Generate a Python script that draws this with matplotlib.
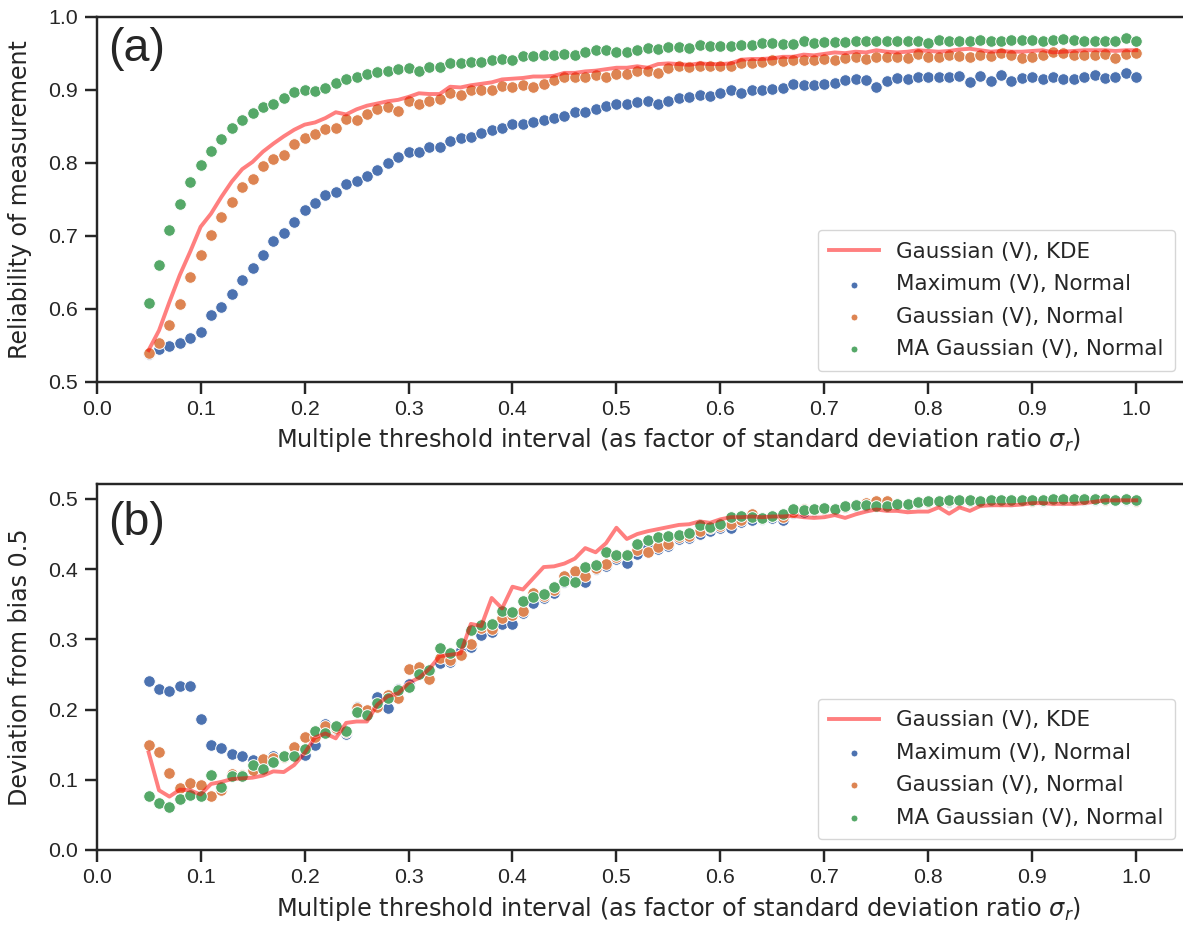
import matplotlib
matplotlib.use('Agg')
import matplotlib.pyplot as plt
import numpy as np

# threshold interval (factor of sigma_r)
thresholds = np.round(np.arange(0.05, 1.001, 0.01), 2)

# (a) reliability of measurement
rel_kde = [0.543, 0.570, 0.609, 0.646, 0.678, 0.712, 0.730, 0.753, 0.774, 0.791,
           0.801, 0.815, 0.826, 0.836, 0.845, 0.852, 0.855, 0.861, 0.869, 0.866,
           0.873, 0.878, 0.881, 0.884, 0.886, 0.890, 0.895, 0.894, 0.894, 0.904,
           0.903, 0.906, 0.908, 0.910, 0.914, 0.915, 0.916, 0.918, 0.918, 0.919,
           0.923, 0.923, 0.925, 0.926, 0.928, 0.930, 0.930, 0.932, 0.930, 0.935,
           0.936, 0.935, 0.934, 0.936, 0.935, 0.935, 0.936, 0.941, 0.942, 0.942,
           0.943, 0.945, 0.945, 0.948, 0.947, 0.949, 0.951, 0.950, 0.952, 0.951,
           0.954, 0.952, 0.951, 0.952, 0.954, 0.953, 0.952, 0.953, 0.955, 0.956,
           0.954, 0.952, 0.953, 0.952, 0.952, 0.953, 0.954, 0.951, 0.952, 0.953,
           0.954, 0.954, 0.954, 0.953, 0.954, 0.954]
rel_max = [0.538, 0.545, 0.548, 0.553, 0.559, 0.568, 0.591, 0.602, 0.620, 0.639,
           0.655, 0.674, 0.693, 0.704, 0.718, 0.735, 0.745, 0.755, 0.760, 0.771,
           0.775, 0.781, 0.790, 0.799, 0.807, 0.814, 0.815, 0.821, 0.822, 0.829,
           0.834, 0.835, 0.840, 0.844, 0.847, 0.853, 0.853, 0.855, 0.858, 0.861,
           0.864, 0.869, 0.870, 0.874, 0.878, 0.880, 0.881, 0.883, 0.884, 0.881,
           0.884, 0.888, 0.890, 0.893, 0.891, 0.896, 0.899, 0.896, 0.899, 0.899,
           0.901, 0.902, 0.908, 0.907, 0.907, 0.908, 0.909, 0.913, 0.914, 0.913,
           0.903, 0.912, 0.916, 0.915, 0.918, 0.918, 0.918, 0.917, 0.919, 0.911,
           0.919, 0.912, 0.920, 0.912, 0.916, 0.918, 0.915, 0.918, 0.914, 0.915,
           0.917, 0.920, 0.916, 0.917, 0.923, 0.917]
rel_gauss = [0.539, 0.553, 0.578, 0.606, 0.643, 0.673, 0.701, 0.726, 0.746, 0.767,
             0.777, 0.796, 0.805, 0.810, 0.826, 0.834, 0.839, 0.846, 0.848, 0.860,
             0.859, 0.866, 0.873, 0.876, 0.871, 0.884, 0.880, 0.884, 0.887, 0.896,
             0.893, 0.900, 0.900, 0.900, 0.905, 0.904, 0.907, 0.904, 0.908, 0.913,
             0.917, 0.918, 0.918, 0.920, 0.918, 0.921, 0.922, 0.925, 0.925, 0.923,
             0.930, 0.932, 0.931, 0.933, 0.932, 0.933, 0.932, 0.937, 0.936, 0.938,
             0.940, 0.939, 0.941, 0.940, 0.941, 0.942, 0.940, 0.944, 0.945, 0.942,
             0.945, 0.945, 0.945, 0.943, 0.949, 0.945, 0.945, 0.948, 0.946, 0.945,
             0.947, 0.946, 0.950, 0.948, 0.944, 0.945, 0.948, 0.951, 0.950, 0.947,
             0.948, 0.948, 0.949, 0.944, 0.949, 0.950]
rel_ma = [0.608, 0.659, 0.707, 0.743, 0.774, 0.797, 0.816, 0.833, 0.847, 0.858,
          0.868, 0.876, 0.880, 0.888, 0.897, 0.900, 0.898, 0.902, 0.909, 0.914,
          0.918, 0.921, 0.924, 0.926, 0.928, 0.929, 0.925, 0.931, 0.931, 0.936,
          0.936, 0.938, 0.938, 0.941, 0.942, 0.941, 0.946, 0.946, 0.947, 0.947,
          0.949, 0.948, 0.951, 0.954, 0.954, 0.951, 0.952, 0.955, 0.957, 0.956,
          0.959, 0.958, 0.957, 0.961, 0.960, 0.960, 0.960, 0.961, 0.961, 0.964,
          0.964, 0.962, 0.962, 0.966, 0.964, 0.965, 0.965, 0.965, 0.967, 0.966,
          0.967, 0.966, 0.966, 0.967, 0.967, 0.964, 0.968, 0.967, 0.967, 0.967,
          0.968, 0.967, 0.967, 0.968, 0.968, 0.968, 0.967, 0.968, 0.969, 0.968,
          0.967, 0.967, 0.967, 0.967, 0.971, 0.967]

# (b) deviation from bias 0.5
dev_kde = [0.139, 0.085, 0.076, 0.086, 0.085, 0.079, 0.094, 0.097, 0.101, 0.102,
           0.103, 0.106, 0.112, 0.111, 0.121, 0.138, 0.160, 0.166, 0.159, 0.181,
           0.183, 0.183, 0.207, 0.219, 0.223, 0.238, 0.245, 0.258, 0.276, 0.278,
           0.280, 0.322, 0.319, 0.359, 0.344, 0.375, 0.371, 0.387, 0.403, 0.404,
           0.408, 0.415, 0.430, 0.424, 0.437, 0.459, 0.443, 0.450, 0.454, 0.457,
           0.460, 0.463, 0.464, 0.468, 0.466, 0.471, 0.474, 0.474, 0.475, 0.474,
           0.475, 0.475, 0.476, 0.474, 0.473, 0.474, 0.477, 0.473, 0.478, 0.482,
           0.485, 0.483, 0.483, 0.481, 0.482, 0.482, 0.488, 0.479, 0.488, 0.483,
           0.490, 0.491, 0.491, 0.491, 0.492, 0.494, 0.494, 0.493, 0.493, 0.493,
           0.494, 0.496, 0.498, 0.498, 0.498, 0.498]
dev_max = [0.241, 0.230, 0.227, 0.234, 0.233, 0.187, 0.150, 0.145, 0.136, 0.134,
           0.128, 0.123, 0.134, 0.133, 0.135, 0.135, 0.149, 0.180, 0.172, 0.165,
           0.204, 0.195, 0.218, 0.202, 0.230, 0.237, 0.250, 0.255, 0.267, 0.268,
           0.285, 0.289, 0.306, 0.311, 0.322, 0.322, 0.338, 0.352, 0.359, 0.366,
           0.381, 0.390, 0.382, 0.400, 0.405, 0.415, 0.409, 0.421, 0.432, 0.428,
           0.433, 0.443, 0.444, 0.450, 0.455, 0.459, 0.459, 0.467, 0.470, 0.472,
           0.473, 0.470, 0.480, 0.481, 0.483, 0.485, 0.484, 0.488, 0.490, 0.490,
           0.495, 0.494, 0.492, 0.491, 0.494, 0.495, 0.495, 0.496, 0.496, 0.497,
           0.495, 0.497, 0.497, 0.497, 0.498, 0.497, 0.497, 0.499, 0.499, 0.499,
           0.499, 0.499, 0.499, 0.498, 0.499, 0.497]
dev_gauss = [0.150, 0.139, 0.109, 0.088, 0.096, 0.093, 0.077, 0.086, 0.108, 0.107,
             0.114, 0.130, 0.131, 0.133, 0.146, 0.161, 0.161, 0.176, 0.174, 0.168,
             0.202, 0.200, 0.203, 0.221, 0.216, 0.258, 0.261, 0.243, 0.273, 0.270,
             0.278, 0.293, 0.316, 0.315, 0.330, 0.335, 0.340, 0.366, 0.362, 0.370,
             0.390, 0.397, 0.390, 0.402, 0.408, 0.418, 0.420, 0.427, 0.425, 0.431,
             0.436, 0.446, 0.447, 0.455, 0.458, 0.462, 0.464, 0.470, 0.478, 0.473,
             0.476, 0.474, 0.482, 0.486, 0.484, 0.486, 0.486, 0.489, 0.491, 0.494,
             0.497, 0.497, 0.493, 0.492, 0.495, 0.496, 0.497, 0.497, 0.497, 0.497,
             0.496, 0.498, 0.497, 0.498, 0.498, 0.497, 0.498, 0.499, 0.500, 0.499,
             0.500, 0.500, 0.499, 0.499, 0.500, 0.497]
dev_ma = [0.077, 0.067, 0.061, 0.073, 0.079, 0.077, 0.107, 0.089, 0.106, 0.105,
          0.121, 0.115, 0.126, 0.134, 0.134, 0.144, 0.170, 0.166, 0.176, 0.170,
          0.197, 0.192, 0.209, 0.216, 0.228, 0.232, 0.251, 0.257, 0.287, 0.281,
          0.295, 0.313, 0.321, 0.322, 0.341, 0.339, 0.354, 0.361, 0.365, 0.375,
          0.383, 0.382, 0.403, 0.406, 0.425, 0.420, 0.420, 0.436, 0.441, 0.446,
          0.447, 0.448, 0.452, 0.463, 0.460, 0.465, 0.474, 0.475, 0.474, 0.473,
          0.475, 0.478, 0.486, 0.484, 0.486, 0.487, 0.486, 0.490, 0.492, 0.491,
          0.490, 0.490, 0.493, 0.493, 0.496, 0.497, 0.497, 0.498, 0.498, 0.498,
          0.497, 0.498, 0.498, 0.498, 0.499, 0.498, 0.498, 0.500, 0.500, 0.500,
          0.500, 0.500, 0.500, 0.499, 0.500, 0.498]

labels = ['Gaussian (V), KDE', 'Maximum (V), Normal',
          'Gaussian (V), Normal', 'MA Gaussian (V), Normal']
colors = ['#4C72B0', '#DD8452', '#55A868']
xlabel = 'Multiple threshold interval (as factor of standard deviation ratio $\\sigma_r$)'

plt.rcParams['font.family'] = ['Liberation Sans', 'DejaVu Sans']
plt.rcParams['text.color'] = '.15'
plt.rcParams['axes.labelcolor'] = '.15'
plt.rcParams['axes.edgecolor'] = '.15'
plt.rcParams['axes.linewidth'] = 1.75
plt.rcParams['xtick.color'] = '.15'
plt.rcParams['ytick.color'] = '.15'

fig = plt.figure(figsize=(11.83, 9.26), dpi=100)
ax1 = fig.add_axes([0.0817, 0.588, 0.9205, 0.394])
ax2 = fig.add_axes([0.0817, 0.0821, 0.9205, 0.395])

panels = [(ax1, rel_kde, [rel_max, rel_gauss, rel_ma], 'Reliability of measurement', '(a)', (0.5, 1.0), 0.879),
          (ax2, dev_kde, [dev_max, dev_gauss, dev_ma], 'Deviation from bias 0.5', '(b)', (0.0, 0.521), 0.861)]

for ax, kde, normals, ylab, tag, ylim, ty in panels:
    ax.plot(thresholds, kde, color='red', alpha=0.5, lw=2.8, label=labels[0])
    for vals, c, lab in zip(normals, colors, labels[1:]):
        ax.scatter(thresholds, vals, s=70, color=c, edgecolor='white', linewidth=0.7, label=lab)
    ax.set_xlim(0, 1.0475)
    ax.set_ylim(*ylim)
    ax.set_xticks(np.arange(0, 1.01, 0.1))
    ax.set_yticks(np.arange(ylim[0], 0.5 + ylim[0] + 0.01, 0.1))
    ax.tick_params(labelsize=15.4, length=8.4, width=1.75, pad=4.9)
    ax.set_xlabel(xlabel, fontsize=17.3, family='DejaVu Sans')
    ax.xaxis.set_label_coords(0.534, -0.123)
    ax.set_ylabel(ylab, fontsize=17.1, family='DejaVu Sans')
    ax.yaxis.set_label_coords(-0.059, 0.5)
    ax.text(0.0104, ty, tag, transform=ax.transAxes, fontsize=33.6, va='baseline')
    leg = ax.legend(loc='lower right', prop={'family': 'DejaVu Sans', 'size': 15.4},
                    markerscale=0.6, borderpad=0.55, handlelength=2.3, labelspacing=0.58)
    leg.get_frame().set_edgecolor('0.8')

fig.savefig('out.png', dpi=100)
